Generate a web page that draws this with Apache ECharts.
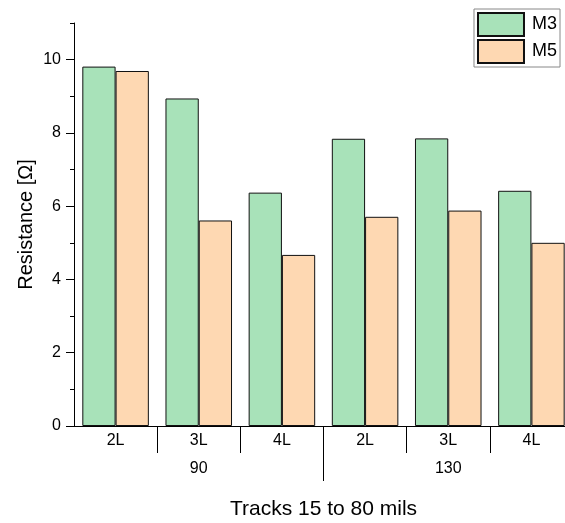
<!DOCTYPE html>
<html>
<head>
<meta charset="utf-8">
<script src="https://cdn.jsdelivr.net/npm/echarts@6/dist/echarts.min.js"></script>
<style>html,body{margin:0;padding:0;background:#fff}#c{width:565px;height:523px}</style>
</head>
<body>
<div id="c"></div>
<script>
const categories = ['2L', '3L', '4L', '2L', '3L', '4L'];
const groups = ['90', '130'];
const m3 = [9.81, 8.94, 6.37, 7.84, 7.85, 6.42];
const m5 = [9.69, 5.61, 4.67, 5.71, 5.88, 5.00];
const yTicks = [0, 2, 4, 6, 8, 10];
const seriesNames = ['M3', 'M5'];

const FONT = 'Liberation Sans, Arial, sans-serif';
const chart = echarts.init(document.getElementById('c'));
const perGroup = categories.length / groups.length;
const catBoundaries = categories.slice(1).map((c, i) => i + 1);
const groupBoundaries = groups.slice(1).map((g, i) => perGroup * (i + 1));
const groupCenters = groups.map((g, i) => perGroup * i + perGroup / 2);

chart.setOption({
  animation: false,
  textStyle: { fontFamily: FONT, color: '#000' },
  grid: { left: 74, right: -8, top: 23, bottom: 97, containLabel: false, outerBoundsMode: 'none' },
  legend: {
    data: seriesNames,
    icon: 'rect',
    orient: 'vertical',
    right: 5, top: 9,
    itemWidth: 46, itemHeight: 23, itemGap: 2,
    padding: 3,
    borderColor: '#888', borderWidth: 1,
    textStyle: { fontSize: 18, color: '#000', fontFamily: FONT, padding: [0, 0, 0, 3] }
  },
  xAxis: [
    {
      type: 'category',
      data: categories,
      position: 'bottom',
      axisLine: { onZero: false, lineStyle: { color: '#000', width: 1 } },
      axisTick: { show: false },
      axisLabel: { fontSize: 16, color: '#000', margin: 7, interval: 0 },
      name: 'Tracks 15 to 80 mils',
      nameLocation: 'middle',
      nameGap: 73,
      nameTextStyle: { fontSize: 21, color: '#000' }
    },
    {
      type: 'value',
      position: 'bottom',
      min: 0, max: categories.length,
      splitLine: { show: false },
      axisLine: { show: false, onZero: false },
      axisTick: { show: true, length: 27, customValues: catBoundaries, lineStyle: { color: '#000' } },
      axisLabel: { show: false }
    },
    {
      type: 'value',
      position: 'bottom',
      min: 0, max: categories.length,
      splitLine: { show: false },
      axisLine: { show: false, onZero: false },
      axisTick: { show: true, length: 55, customValues: groupBoundaries, lineStyle: { color: '#000' } },
      axisLabel: {
        fontSize: 16, color: '#000', margin: 35,
        customValues: groupCenters,
        formatter: function (v) { return groups[Math.floor(v / perGroup)]; }
      }
    }
  ],
  yAxis: [
    {
      type: 'value',
      position: 'left',
      min: 0, max: 11, interval: 1,
      splitLine: { show: false },
      axisLine: { show: true, onZero: false, lineStyle: { color: '#000', width: 1 } },
      axisTick: { show: true, length: 4, lineStyle: { color: '#000' } },
      axisLabel: { show: false },
      name: 'Resistance [Ω]',
      nameLocation: 'middle',
      nameGap: 38,
      nameRotate: 90,
      nameTextStyle: { fontSize: 20, color: '#000' }
    },
    {
      type: 'value',
      position: 'left',
      min: 0, max: 11,
      splitLine: { show: false },
      axisLine: { show: false, onZero: false },
      axisTick: { show: true, length: 8, customValues: yTicks, lineStyle: { color: '#000' } },
      axisLabel: { fontSize: 16, color: '#000', margin: 13, customValues: yTicks }
    }
  ],
  series: [
    {
      name: seriesNames[0], type: 'bar', data: m3,
      xAxisIndex: 0, yAxisIndex: 0,
      barGap: '0%', barCategoryGap: '20%',
      itemStyle: { color: '#A8E2B9', borderColor: '#111', borderWidth: 1 }
    },
    {
      name: seriesNames[1], type: 'bar', data: m5,
      xAxisIndex: 0, yAxisIndex: 0,
      barGap: '0%', barCategoryGap: '20%',
      itemStyle: { color: '#FED8B2', borderColor: '#111', borderWidth: 1 }
    }
  ]
});
</script>
</body>
</html>
